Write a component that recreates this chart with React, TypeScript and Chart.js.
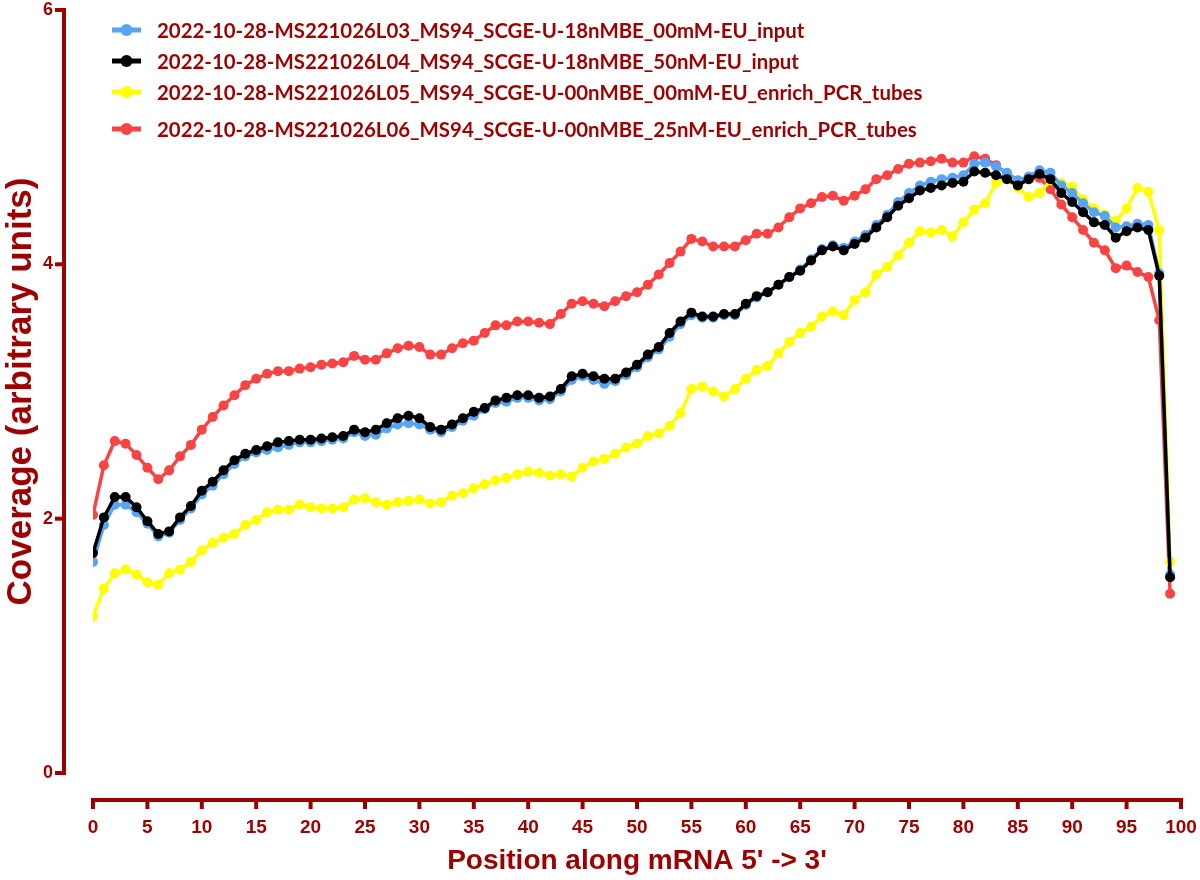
import React, { useEffect, useRef } from "react";
import { Chart, registerables } from "chart.js";

Chart.register(...registerables);

// ---------- data ----------
const POSITIONS = [
  0, 1, 2, 3, 4, 5, 6, 7, 8, 9, 10, 11, 12, 13, 14, 15, 16, 17, 18, 19,
  20, 21, 22, 23, 24, 25, 26, 27, 28, 29, 30, 31, 32, 33, 34, 35, 36, 37, 38, 39,
  40, 41, 42, 43, 44, 45, 46, 47, 48, 49, 50, 51, 52, 53, 54, 55, 56, 57, 58, 59,
  60, 61, 62, 63, 64, 65, 66, 67, 68, 69, 70, 71, 72, 73, 74, 75, 76, 77, 78, 79,
  80, 81, 82, 83, 84, 85, 86, 87, 88, 89, 90, 91, 92, 93, 94, 95, 96, 97, 98, 99,
];

const SERIES_NAMES = [
  "2022-10-28-MS221026L03_MS94_SCGE-U-18nMBE_00mM-EU_input",
  "2022-10-28-MS221026L04_MS94_SCGE-U-18nMBE_50nM-EU_input",
  "2022-10-28-MS221026L05_MS94_SCGE-U-00nMBE_00mM-EU_enrich_PCR_tubes",
  "2022-10-28-MS221026L06_MS94_SCGE-U-00nMBE_25nM-EU_enrich_PCR_tubes",
];

// L03 (blue)
const L03_VALUES = [
  1.66, 1.95, 2.11, 2.11, 2.05, 1.96, 1.86, 1.89, 1.99, 2.08,
  2.19, 2.26, 2.35, 2.43, 2.49, 2.52, 2.54, 2.56, 2.58, 2.60,
  2.60, 2.61, 2.62, 2.63, 2.68, 2.65, 2.66, 2.71, 2.74, 2.75,
  2.74, 2.70, 2.68, 2.72, 2.77, 2.81, 2.86, 2.91, 2.92, 2.95,
  2.95, 2.93, 2.94, 3.00, 3.09, 3.12, 3.09, 3.06, 3.08, 3.13,
  3.19, 3.27, 3.33, 3.43, 3.53, 3.60, 3.58, 3.58, 3.60, 3.60,
  3.68, 3.74, 3.78, 3.84, 3.90, 3.96, 4.04, 4.12, 4.15, 4.13,
  4.18, 4.23, 4.31, 4.39, 4.49, 4.56, 4.62, 4.65, 4.67, 4.68,
  4.70, 4.79, 4.80, 4.77, 4.72, 4.66, 4.69, 4.74, 4.72, 4.62,
  4.56, 4.48, 4.41, 4.38, 4.29, 4.30, 4.32, 4.31, 3.93, 1.56,
];

// L04 (black)
const L04_VALUES = [
  1.73, 2.01, 2.17, 2.17, 2.09, 1.98, 1.88, 1.90, 2.01, 2.10,
  2.22, 2.29, 2.38, 2.46, 2.51, 2.54, 2.57, 2.60, 2.61, 2.62,
  2.62, 2.63, 2.64, 2.65, 2.70, 2.68, 2.70, 2.75, 2.79, 2.81,
  2.79, 2.72, 2.70, 2.74, 2.79, 2.84, 2.87, 2.93, 2.95, 2.97,
  2.97, 2.95, 2.96, 3.02, 3.12, 3.14, 3.12, 3.10, 3.10, 3.15,
  3.21, 3.29, 3.35, 3.46, 3.55, 3.62, 3.59, 3.59, 3.61, 3.61,
  3.69, 3.75, 3.78, 3.84, 3.90, 3.95, 4.03, 4.11, 4.14, 4.11,
  4.16, 4.21, 4.29, 4.37, 4.46, 4.52, 4.58, 4.60, 4.62, 4.64,
  4.65, 4.73, 4.72, 4.70, 4.67, 4.62, 4.67, 4.71, 4.67, 4.56,
  4.49, 4.41, 4.33, 4.31, 4.21, 4.26, 4.29, 4.27, 3.91, 1.54,
];

// L05 (yellow)
const L05_VALUES = [
  1.23, 1.45, 1.57, 1.60, 1.56, 1.50, 1.48, 1.57, 1.60, 1.66,
  1.75, 1.81, 1.85, 1.88, 1.95, 1.99, 2.05, 2.07, 2.07, 2.11,
  2.09, 2.08, 2.08, 2.09, 2.15, 2.16, 2.13, 2.11, 2.13, 2.14,
  2.15, 2.12, 2.13, 2.18, 2.20, 2.24, 2.27, 2.30, 2.32, 2.35,
  2.37, 2.36, 2.34, 2.35, 2.33, 2.40, 2.45, 2.47, 2.51, 2.56,
  2.59, 2.65, 2.67, 2.73, 2.83, 3.02, 3.04, 3.00, 2.96, 3.02,
  3.10, 3.17, 3.20, 3.30, 3.39, 3.46, 3.51, 3.59, 3.63, 3.60,
  3.72, 3.78, 3.92, 3.98, 4.07, 4.17, 4.26, 4.25, 4.27, 4.22,
  4.33, 4.43, 4.48, 4.64, 4.67, 4.60, 4.53, 4.56, 4.66, 4.64,
  4.61, 4.51, 4.44, 4.39, 4.34, 4.44, 4.60, 4.57, 4.27, 1.66,
];

// L06 (red)
const L06_VALUES = [
  2.03, 2.42, 2.61, 2.59, 2.50, 2.40, 2.31, 2.38, 2.49, 2.58,
  2.70, 2.80, 2.89, 2.97, 3.05, 3.10, 3.14, 3.16, 3.16, 3.18,
  3.19, 3.21, 3.22, 3.23, 3.28, 3.25, 3.25, 3.30, 3.34, 3.36,
  3.35, 3.29, 3.29, 3.34, 3.38, 3.40, 3.46, 3.52, 3.52, 3.55,
  3.55, 3.54, 3.53, 3.61, 3.69, 3.71, 3.69, 3.67, 3.71, 3.75,
  3.78, 3.84, 3.92, 4.01, 4.10, 4.20, 4.18, 4.14, 4.14, 4.14,
  4.19, 4.24, 4.24, 4.29, 4.37, 4.44, 4.48, 4.53, 4.54, 4.50,
  4.54, 4.59, 4.67, 4.70, 4.75, 4.79, 4.80, 4.81, 4.83, 4.80,
  4.80, 4.85, 4.83, 4.78, 4.71, 4.66, 4.67, 4.68, 4.59, 4.47,
  4.37, 4.27, 4.17, 4.11, 3.97, 3.99, 3.94, 3.90, 3.56, 1.41,
];

const SERIES_COLORS = ["#58a4f4", "#000000", "#ffff00", "#fa4343"];
// drawing order: lower = on top
const SERIES_ORDER = [1, 0, 2, 3];

const X_MIN = 0;
const X_MAX = 100;
const X_STEP = 5;
const Y_MIN = 0;
const Y_MAX = 6;
const Y_STEP = 2;

const X_TITLE = "Position along mRNA 5' -> 3'";
const Y_TITLE = "Coverage (arbitrary units)";

const AXIS_COLOR = "#9e0000";
const FONT = "'Liberation Sans', Arial, sans-serif";
const LEGEND_FONT = "Lato, 'Open Sans', sans-serif";

// ---------- plugins ----------
const offsetAxesPlugin = {
  id: "offsetAxes",
  afterDraw(chart: any) {
    const { ctx, scales } = chart;
    const x = scales.x;
    const y = scales.y;
    ctx.save();
    ctx.strokeStyle = AXIS_COLOR;
    ctx.lineWidth = 4;
    ctx.lineCap = "butt";
    // vertical axis, offset to the left of the plot area
    const axX = 64;
    const yTop = y.getPixelForValue(Y_MAX);
    const yBot = y.getPixelForValue(Y_MIN);
    ctx.beginPath();
    ctx.moveTo(axX, yTop - 2);
    ctx.lineTo(axX, yBot + 2);
    ctx.stroke();
    y.ticks.forEach((t: any) => {
      const py = y.getPixelForValue(t.value);
      ctx.beginPath();
      ctx.moveTo(axX + 2, py);
      ctx.lineTo(axX - 9, py);
      ctx.stroke();
    });
    // horizontal axis, offset below the plot area
    const axY = 800;
    const xL = x.getPixelForValue(X_MIN);
    const xR = x.getPixelForValue(X_MAX);
    ctx.beginPath();
    ctx.moveTo(xL - 2, axY);
    ctx.lineTo(xR + 2, axY);
    ctx.stroke();
    x.ticks.forEach((t: any) => {
      const px = x.getPixelForValue(t.value);
      ctx.beginPath();
      ctx.moveTo(px, axY - 2);
      ctx.lineTo(px, axY + 9);
      ctx.stroke();
    });
    ctx.restore();
  },
};

const legendPlugin = {
  id: "prismLegend",
  afterDraw(chart: any) {
    const { ctx } = chart;
    const rows = [30, 61, 92, 129];
    ctx.save();
    ctx.font = `bold 20px ${LEGEND_FONT}`;
    const w0 = ctx.measureText(SERIES_NAMES[0]).width;
    const size = (20 * 648) / w0;
    chart.data.datasets.forEach((ds: any, i: number) => {
      const cy = rows[i];
      ctx.strokeStyle = ds.borderColor;
      ctx.fillStyle = ds.borderColor;
      ctx.lineWidth = 5;
      ctx.beginPath();
      ctx.moveTo(112, cy);
      ctx.lineTo(141, cy);
      ctx.stroke();
      ctx.beginPath();
      ctx.arc(126.5, cy, 6, 0, Math.PI * 2);
      ctx.fill();
      ctx.fillStyle = AXIS_COLOR;
      ctx.font = `bold ${size}px ${LEGEND_FONT}`;
      ctx.textAlign = "left";
      ctx.textBaseline = "middle";
      ctx.fillText(ds.label, 157, cy + 1);
    });
    ctx.restore();
  },
};

export default function App() {
  const canvasRef = useRef<HTMLCanvasElement | null>(null);

  useEffect(() => {
    document.body.style.margin = "0";
    const canvas = canvasRef.current;
    if (!canvas) return;
    const seriesValues = [L03_VALUES, L04_VALUES, L05_VALUES, L06_VALUES];
    const datasets = SERIES_NAMES.map((name, i) => ({
      label: name,
      data: POSITIONS.map((p, j) => ({ x: p, y: seriesValues[i][j] })),
      borderColor: SERIES_COLORS[i],
      backgroundColor: SERIES_COLORS[i],
      pointBackgroundColor: SERIES_COLORS[i],
      pointBorderWidth: 0,
      pointRadius: 5,
      borderWidth: 3.5,
      tension: 0,
      order: SERIES_ORDER[i],
    }));

    const chart = new Chart(canvas, {
      type: "line",
      data: { datasets },
      options: {
        animation: false,
        responsive: false,
        devicePixelRatio: 1,
        layout: { padding: { top: 10, right: 19, left: 0, bottom: 0 } },
        plugins: { legend: { display: false }, tooltip: { enabled: false } },
        scales: {
          x: {
            type: "linear",
            min: X_MIN,
            max: X_MAX,
            grid: { display: false, drawTicks: false },
            border: { display: false },
            ticks: {
              stepSize: X_STEP,
              padding: 43,
              color: AXIS_COLOR,
              font: { family: FONT, size: 19, weight: "bold" },
              maxRotation: 0,
              autoSkip: false,
            },
            title: {
              display: true,
              text: X_TITLE,
              color: AXIS_COLOR,
              font: { family: FONT, size: 28, weight: "bold" },
              padding: { top: 0, bottom: 2 },
            },
            afterFit(scale: any) {
              scale.height = 107;
              scale.paddingLeft = 0;
              scale.paddingRight = 0;
            },
          },
          y: {
            type: "linear",
            min: Y_MIN,
            max: Y_MAX,
            grid: { display: false, drawTicks: false },
            border: { display: false },
            ticks: {
              stepSize: Y_STEP,
              padding: 40,
              color: AXIS_COLOR,
              font: { family: FONT, size: 18, weight: "bold" },
            },
            title: {
              display: true,
              text: Y_TITLE,
              color: AXIS_COLOR,
              font: { family: FONT, size: 35, weight: "bold" },
              padding: { top: 0, bottom: 0 },
            },
            afterFit(scale: any) {
              scale.width = 93;
              scale.paddingTop = 0;
              scale.paddingBottom = 0;
            },
          },
        },
      },
      plugins: [offsetAxesPlugin, legendPlugin],
    } as any);

    return () => chart.destroy();
  }, []);

  return (
    <div style={{ width: 1200, height: 880, background: "#ffffff" }}>
      <canvas ref={canvasRef} width={1200} height={880} />
    </div>
  );
}
